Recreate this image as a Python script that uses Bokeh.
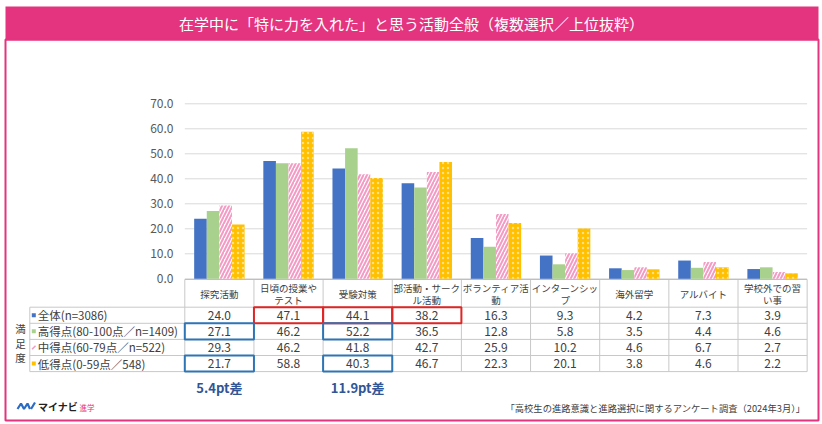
from bokeh.plotting import figure
from bokeh.models import Range1d
from bokeh.core.properties import value
from bokeh.embed import file_html
from bokeh.resources import INLINE

categories = ["探究活動", "日頃の授業や\nテスト", "受験対策", "部活動・サーク\nル活動",
              "ボランティア活\n動", "インターンシッ\nプ", "海外留学", "アルバイト", "学校外での習\nい事"]
series_names = ["全体(n=3086)", "高得点(80-100点／n=1409)", "中得点(60-79点／n=522)", "低得点(0-59点／548)"]
zentai = [24.0, 47.1, 44.1, 38.2, 16.3, 9.3, 4.2, 7.3, 3.9]
koutokuten = [27.1, 46.2, 52.2, 36.5, 12.8, 5.8, 3.5, 4.4, 4.6]
chuutokuten = [29.3, 46.2, 41.8, 42.7, 25.9, 10.2, 4.6, 6.7, 2.7]
teitokuten = [21.7, 58.8, 40.3, 46.7, 22.3, 20.1, 3.8, 4.6, 2.2]
y_ticks = [0, 10, 20, 30, 40, 50, 60, 70]
red_cells = [(0, 1), (0, 2), (0, 3)]            # (row, column)
blue_cells = [(1, 0), (3, 0), (1, 2), (3, 2)]
gap_cols = [0, 2]
gap_labels = ["5.4pt差", "11.9pt差"]
title = "在学中に「特に力を入れた」と思う活動全般（複数選択／上位抜粋）"
source = "「高校生の進路意識と進路選択に関するアンケート調査（2024年3月）」"

FONT = value("Noto Sans CJK JP")
PINK = "#E4337F"

# category i spans [i, i+1] on x, y is the percentage.
# X0/CW/Y0/PY only set where that lands on the page
X0, CW = 184.3, 69.15
Y0, PY = 278.3, 2.5

def px(x):
    return (x - X0) / CW

def py(y):
    return (Y0 - y) / PY

p = figure(width=822, height=424, output_backend="svg", toolbar_location=None,
           x_range=Range1d(px(0), px(822)), y_range=Range1d(py(424), py(0)),
           x_axis_location=None, y_axis_location=None, min_border=0)
p.grid.visible = False
p.outline_line_color = None
p.background_fill_color = "white"

# title band + frame
p.quad(left=[px(5)], right=[px(818)], top=[py(6)], bottom=[py(40)], fill_color=PINK, line_color=None)
p.quad(left=[px(5)], right=[px(818)], top=[py(39)], bottom=[py(420)], fill_color=None,
       line_color=PINK, line_width=2)
p.text(x=[px(411)], y=[py(23)], text=[title], text_align="center", text_baseline="middle",
       text_font=FONT, text_font_size="15px", text_color="white")

# grid + y tick labels
n = len(categories)
p.segment(x0=[0] * len(y_ticks), x1=[n] * len(y_ticks), y0=y_ticks, y1=y_ticks,
          line_color="#D9D9D9", line_width=1)
p.text(x=[px(173)] * len(y_ticks), y=y_ticks, text=["%.1f" % t for t in y_ticks],
       text_align="right", text_baseline="middle", text_font=FONT, text_font_size="12px",
       text_color="#595959")

# bars
bw = 12.6 / CW
series = [zentai, koutokuten, chuutokuten, teitokuten]
styles = [
    dict(fill_color="#4472C4"),
    dict(fill_color="#A9D18E"),
    dict(fill_color="white", hatch_pattern="/", hatch_color="#F49AC4", hatch_scale=7, hatch_weight=2),
    dict(fill_color="#FFC000", hatch_pattern=".", hatch_color="#FFE08A", hatch_scale=5, hatch_weight=0.6),
]
for k, vals in enumerate(series):
    xs = [i + 0.5 + (k - 1.5) * bw for i in range(n)]
    p.vbar(x=xs, top=vals, bottom=0, width=bw, line_color=None, **styles[k])

# table
row_lines = [306.7, 322.8, 338.9, 355.0, 371.1]
grid_c = "#C8C8C8"
p.segment(x0=list(range(n + 1)), x1=list(range(n + 1)), y0=[py(279)] * (n + 1), y1=[py(371.1)] * (n + 1),
          line_color=grid_c, line_width=1)
p.segment(x0=[px(29.3)], x1=[px(29.3)], y0=[py(row_lines[0])], y1=[py(row_lines[-1])],
          line_color=grid_c, line_width=1)
p.segment(x0=[0], x1=[n], y0=[py(279)], y1=[py(279)], line_color="#BFBFBF", line_width=1)
p.segment(x0=[px(29.3)] * len(row_lines), x1=[n] * len(row_lines),
          y0=[py(r) for r in row_lines], y1=[py(r) for r in row_lines], line_color=grid_c, line_width=1)

# header labels, one text per line so two-line ones sit centred in the cell
hx, hy, ht = [], [], []
for i, cat in enumerate(categories):
    lines = cat.split("\n")
    for j, s in enumerate(lines):
        hx.append(i + 0.5)
        hy.append(py(293 + (j - (len(lines) - 1) / 2) * 12))
        ht.append(s)
p.text(x=hx, y=hy, text=ht, text_align="center", text_baseline="middle", text_font=FONT,
       text_font_size="9.5px", text_color="#404040")

row_mid = [py((row_lines[r] + row_lines[r + 1]) / 2) for r in range(4)]
for r, vals in enumerate(series):
    p.text(x=[i + 0.5 for i in range(n)], y=[row_mid[r]] * n, text=["%.1f" % v for v in vals],
           text_align="center", text_baseline="middle", text_font=FONT, text_font_size="12px",
           text_color="#404040")

# row labels with little legend keys
key_colors = ["#4472C4", "#A9D18E", "#F49AC4", "#FFC000"]
for r in range(4):
    if r == 2:
        p.scatter(x=[px(33.3)], y=[row_mid[r]], marker="dash", angle=0.8, size=5,
                  line_color=key_colors[r], line_width=1.5)
    else:
        p.scatter(x=[px(33.3)], y=[row_mid[r]], marker="square", size=4,
                  fill_color=key_colors[r], line_color=None)
p.text(x=[px(37.3)] * 4, y=row_mid, text=series_names, text_align="left", text_baseline="middle",
       text_font=FONT, text_font_size="11.5px", text_color="#404040")
p.text(x=[px(20)] * 3, y=[py(328), py(342.5), py(357)], text=["満", "足", "度"], text_align="center",
       text_baseline="middle", text_font=FONT, text_font_size="10.5px", text_color="#404040")

# highlight boxes
p.quad(left=[c for r, c in red_cells], right=[c + 1 for r, c in red_cells],
       top=[py(row_lines[r]) for r, c in red_cells], bottom=[py(row_lines[r + 1]) for r, c in red_cells],
       fill_color=None, line_color="#E02525", line_width=2)
p.quad(left=[c for r, c in blue_cells], right=[c + 1 for r, c in blue_cells],
       top=[py(row_lines[r]) for r, c in blue_cells], bottom=[py(row_lines[r + 1]) for r, c in blue_cells],
       fill_color=None, line_color="#2E75B6", line_width=2)

p.text(x=[c + 0.5 for c in gap_cols], y=[py(386.7)] * len(gap_cols), text=gap_labels,
       text_align="center", text_baseline="middle", text_font=FONT, text_font_size="13px",
       text_font_style="bold", text_color="#2F5597")

# footer: logo + source
p.multi_line(xs=[[px(17), px(20.5), px(23.5), px(27), px(29.5)], [px(30.5), px(34.5)]],
             ys=[[py(408.5), py(403), py(408.5), py(403), py(408.5)], [py(408.5), py(402)]],
             line_color="#2B6CC4", line_width=2.2)
p.text(x=[px(37.5)], y=[py(406)], text=["マイナビ"], text_align="left", text_baseline="middle",
       text_font=FONT, text_font_size="10px", text_font_style="bold", text_color="#222222")
p.text(x=[px(79)], y=[py(406.5)], text=["進学"], text_align="left", text_baseline="middle",
       text_font=FONT, text_font_size="7.5px", text_color=PINK)
p.text(x=[px(805)], y=[py(407)], text=[source], text_align="right", text_baseline="middle",
       text_font=FONT, text_font_size="9.3px", text_color="#404040")

open("out.html", "w").write(file_html(p, INLINE))
